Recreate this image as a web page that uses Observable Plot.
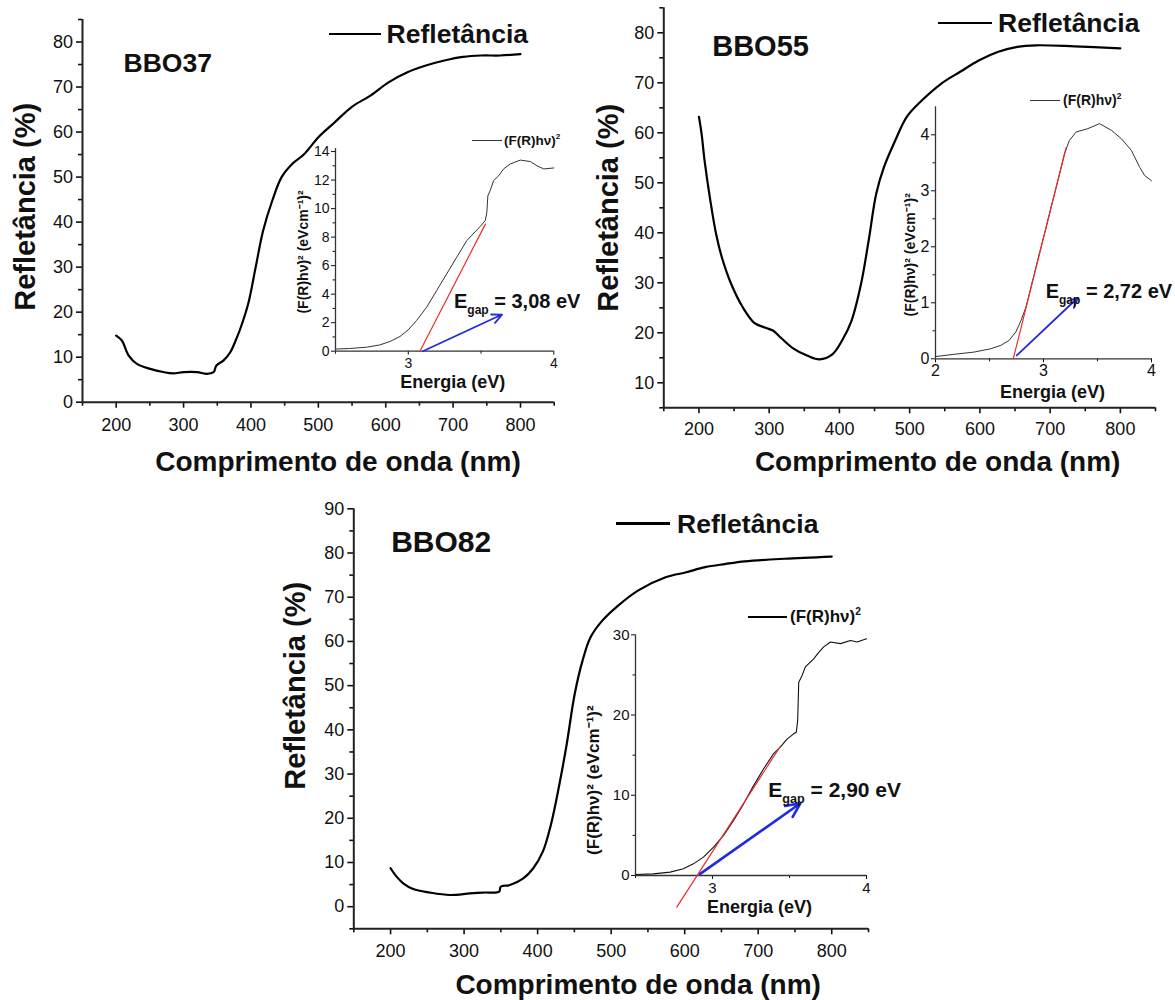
<!DOCTYPE html>
<html>
<head>
<meta charset="utf-8">
<script src="https://cdn.jsdelivr.net/npm/d3@7"></script>
<script src="https://cdn.jsdelivr.net/npm/@observablehq/plot@0.6"></script>
<style>
  body { margin: 0; background: #fff; }
  #fig { position: relative; width: 1175px; height: 1000px; overflow: hidden;
         font-family: "Liberation Sans", Arial, Helvetica, sans-serif; color: #111; }
  #fig > svg, #fig > div { position: absolute; }
  .t { line-height: 1; white-space: nowrap; font-weight: bold; }
</style>
</head>
<body>
<div id="fig"></div>
<script>
// ---------- Reflectance spectra: wavelength (nm) vs reflectance (%) ----------
const bbo37Nm = [200, 208.4, 218.3, 230.7, 250.5, 269.7, 285, 300, 319.8, 334.7, 344.6, 348.5, 359.4, 369.3, 379.2, 385.1, 396, 407, 418, 431.7, 445.5, 461.9, 478.4, 500.4, 522.4, 549.8, 577.3, 604.7, 632.2, 659.6, 687.1, 714.6, 742, 769.5, 800];
const bbo37R  = [14.8, 13.7, 10.4, 8.5, 7.4, 6.7, 6.4, 6.7, 6.7, 6.3, 6.7, 8.1, 9.3, 11.1, 14.4, 16.7, 21.9, 30.0, 38.1, 44.8, 50.0, 53.0, 55.0, 58.9, 61.9, 65.6, 68.1, 71.1, 73.3, 74.8, 75.9, 76.7, 77.0, 77.0, 77.3];

const bbo55Nm = [200, 203.8, 208, 216.3, 224.4, 232.6, 246.1, 262.4, 278.7, 295, 305.9, 316.7, 333, 354.7, 371.7, 390, 403.6, 417.2, 430.7, 441.6, 452.4, 463.3, 479.6, 495.9, 517.6, 544.7, 571.9, 599, 626.2, 653.3, 680.4, 734.7, 800];
const bbo55R  = [63.2, 59.8, 54.5, 46.4, 39.8, 35.1, 29.7, 25.1, 22.0, 21.0, 20.4, 19.0, 17.0, 15.4, 14.7, 15.7, 18.4, 22.4, 29.7, 38.4, 47.8, 53.1, 58.5, 63.2, 66.5, 69.8, 72.2, 74.5, 76.2, 77.2, 77.5, 77.3, 76.9];

const bbo82Nm = [200, 208.2, 217.2, 230.8, 253.5, 280.7, 307.9, 326, 347.8, 349.7, 362.4, 380.5, 394.1, 407.2, 418, 428.7, 439.5, 450.3, 461, 471.8, 488, 509.5, 536.4, 574, 601, 627.9, 654.8, 681.7, 735.5, 800];
const bbo82R  = [8.7, 6.8, 5.3, 4.0, 3.2, 2.65, 3.0, 3.2, 3.4, 4.5, 4.9, 6.4, 8.7, 12.5, 18.5, 26.9, 36.7, 48.0, 55.6, 60.9, 64.7, 68.1, 71.5, 74.5, 75.6, 76.8, 77.5, 78.1, 78.7, 79.2];

// ---------- Kubelka-Munk plots: energy (eV) vs (F(R)hν)² ----------
const km37Ev = [2.5, 2.598, 2.713, 2.805, 2.874, 2.943, 3.0, 3.057, 3.126, 3.195, 3.264, 3.333, 3.402, 3.494, 3.529, 3.54, 3.547, 3.563, 3.586, 3.621, 3.655, 3.701, 3.77, 3.839, 3.885, 3.931, 4.0];
const km37F  = [0.15, 0.19, 0.28, 0.44, 0.68, 1.03, 1.5, 2.15, 3.08, 4.25, 5.42, 6.59, 7.76, 8.74, 9.16, 9.74, 10.9, 11.26, 11.96, 12.3, 12.78, 13.13, 13.4, 13.3, 13.0, 12.78, 12.85];

const km55Ev = [2.0, 2.171, 2.357, 2.512, 2.605, 2.682, 2.744, 2.791, 2.837, 2.884, 2.946, 3.008, 3.07, 3.132, 3.194, 3.24, 3.302, 3.411, 3.519, 3.628, 3.721, 3.814, 3.891, 3.938, 4.0];
const km55F  = [0.04, 0.08, 0.12, 0.18, 0.24, 0.33, 0.48, 0.68, 0.92, 1.28, 1.76, 2.23, 2.71, 3.18, 3.66, 3.9, 4.05, 4.11, 4.2, 4.08, 3.93, 3.72, 3.42, 3.27, 3.18];

const km82Ev = [2.5, 2.616, 2.725, 2.811, 2.876, 2.941, 3.007, 3.072, 3.137, 3.202, 3.267, 3.332, 3.397, 3.44, 3.484, 3.527, 3.544, 3.553, 3.56, 3.581, 3.603, 3.625, 3.657, 3.69, 3.722, 3.766, 3.831, 3.896, 3.939, 4.0];
const km82F  = [0.12, 0.2, 0.42, 0.83, 1.45, 2.29, 3.53, 4.99, 6.86, 8.93, 11.2, 13.3, 15.2, 16.0, 17.0, 17.66, 17.86, 19.3, 24.1, 24.9, 26.0, 26.4, 27.0, 27.8, 28.5, 29.1, 28.9, 29.3, 29.1, 29.5];

// Band gaps (x-intercept of the linear fit), fit slopes and fit extents (eV)
const egap       = [3.08, 2.72, 2.90];
const fitSlope   = [19.8, 7.7, 29.8];
const fitXEnd    = [3.53, 3.21, 3.44];
const fitXStart  = [3.08, 2.72, 2.768];
// Pointer arrows toward the band-gap labels: [x1, y1, x2, y2]
const arrowSeg = [[3.10, 0.0, 3.644, 2.57], [2.753, 0.06, 3.318, 1.09], [2.92, 0.2, 3.571, 9.0]];

// ---------- Axis ticks ----------
const nmTicks  = [200, 300, 400, 500, 600, 700, 800];
const nmMinor  = [150, 250, 350, 450, 550, 650, 750, 850];
const r37Ticks = [0, 10, 20, 30, 40, 50, 60, 70, 80];
const r37Minor = [5, 15, 25, 35, 45, 55, 65, 75, 85];
const r55Ticks = [10, 20, 30, 40, 50, 60, 70, 80];
const r55Minor = [5, 15, 25, 35, 45, 55, 65, 75, 85];
const r82Ticks = [0, 10, 20, 30, 40, 50, 60, 70, 80, 90];
const r82Minor = [-5, 5, 15, 25, 35, 45, 55, 65, 75, 85];
const ev37Ticks = [3, 4],    ev37Minor = [2.5, 3.5];
const ev55Ticks = [2, 3, 4], ev55Minor = [2.5, 3.5];
const ev82Ticks = [3, 4],    ev82Minor = [2.5, 3.5];
const f37Ticks = [0, 2, 4, 6, 8, 10, 12, 14], f37Minor = [1, 3, 5, 7, 9, 11, 13];
const f55Ticks = [0, 1, 2, 3, 4],             f55Minor = [0.5, 1.5, 2.5, 3.5];
const f82Ticks = [0, 10, 20, 30],             f82Minor = [5, 15, 25];

const FONT = '"Liberation Sans", Arial, Helvetica, sans-serif';
const RED = "#ee2b2b", BLUE = "#1f2be0";
const fig = document.getElementById("fig");

function place(svg, box) {
  svg.style.left = box.left + "px";
  svg.style.top = box.top + "px";
  fig.appendChild(svg);
}
function margins(box, fr) {
  return {
    marginLeft: fr.x0 - box.left, marginRight: box.left + box.w - fr.x1,
    marginTop: fr.y0 - box.top, marginBottom: box.top + box.h - fr.y1
  };
}
const baseStyle = (size) => ({fontFamily: FONT, fontSize: size + "px", color: "#111", background: "transparent", overflow: "visible"});

// Reflectance panel
function mainPanel(p) {
  const svg = Plot.plot({
    width: p.box.w, height: p.box.h, ...margins(p.box, p.frame),
    x: {domain: [150, 850]}, y: {domain: p.yDomain},
    style: baseStyle(18),
    marks: [
      Plot.axisX({ticks: nmMinor, tickSize: 4, strokeWidth: 1.6, tickFormat: () => "", label: null}),
      Plot.axisX({ticks: nmTicks, tickSize: 6, tickPadding: p.xPad, strokeWidth: 1.6, fontSize: 18, tickFormat: d => String(d), label: null}),
      Plot.axisY({ticks: p.yMinor, tickSize: 4, strokeWidth: 1.6, tickFormat: () => "", label: null}),
      Plot.axisY({ticks: p.yTicks, tickSize: 6, tickPadding: 3.5, strokeWidth: 1.6, fontSize: 18, tickFormat: d => String(d), label: null}),
      Plot.ruleY([p.yDomain[0]], {stroke: "#222", strokeWidth: 2}),
      Plot.ruleX([150], {stroke: "#222", strokeWidth: 2}),
      Plot.line(p.nm, {x: p.nm, y: p.R, stroke: "#000", strokeWidth: 2.2, curve: "catmull-rom"}),
      Plot.text([p.tag], {frameAnchor: "top-left", dx: p.tagDx, dy: p.tagDy, textAnchor: "start", lineAnchor: "middle", fontSize: p.tagSize, fontWeight: "bold", fill: "#111"}),
      Plot.text(["Refletância (%)"], {frameAnchor: "left", rotate: -90, dx: p.yLabDx, dy: p.yLabDy, textAnchor: "middle", lineAnchor: "middle", fontSize: 29, fontWeight: "bold", fill: "#111"}),
      Plot.text(["Comprimento de onda (nm)"], {frameAnchor: "bottom", dx: p.xLabDx, dy: p.xLabDy, textAnchor: "middle", lineAnchor: "middle", fontSize: 28, fontWeight: "bold", fill: "#111"})
    ]
  });
  place(svg, p.box);
}

// Kubelka-Munk inset with linear fit and pointer arrow
function insetPanel(p) {
  const k = p.k;
  const fit = [fitXStart[k], fitXEnd[k]].map(x => ({x, y: fitSlope[k] * (x - egap[k])}));
  const a = arrowSeg[k];
  const svg = Plot.plot({
    width: p.box.w, height: p.box.h, ...margins(p.box, p.frame),
    x: {domain: p.xDomain}, y: {domain: p.yDomain},
    style: baseStyle(p.fs),
    marks: [
      Plot.axisX({ticks: p.xMinor, tickSize: 3, strokeWidth: 1, tickFormat: () => "", label: null}),
      Plot.axisX({ticks: p.xTicks, tickSize: 4, tickPadding: p.xPad, strokeWidth: 1, fontSize: p.fs, tickFormat: d => String(d), label: null}),
      Plot.axisY({ticks: p.yMinor, tickSize: 2.5, strokeWidth: 1, tickFormat: () => "", label: null}),
      Plot.axisY({ticks: p.yTicks, tickSize: 4, tickPadding: 2, strokeWidth: 1, fontSize: p.fs, tickFormat: d => String(d), label: null}),
      Plot.ruleY([p.yDomain[0]], {stroke: "#333", strokeWidth: 1.3}),
      Plot.ruleX([p.xDomain[0]], {stroke: "#333", strokeWidth: 1.3}),
      Plot.line(p.ev, {x: p.ev, y: p.F, stroke: p.curveColor, strokeWidth: p.curveWidth}),
      Plot.line(fit, {x: "x", y: "y", stroke: RED, strokeWidth: 1.2}),
      Plot.arrow([a], {x1: d => d[0], y1: d => d[1], x2: d => d[2], y2: d => d[3], stroke: BLUE, strokeWidth: p.arrowWidth, headLength: 9, headAngle: 50}),
      Plot.text(["Energia (eV)"], {frameAnchor: "bottom", dx: p.xLabDx, dy: p.xLabDy, textAnchor: "middle", lineAnchor: "middle", fontSize: 18, fontWeight: "bold", fill: "#111"}),
      Plot.text(["(F(R)hν)² (eVcm⁻¹)²"], {frameAnchor: "left", rotate: -90, dx: p.yLabDx, dy: p.yLabDy, textAnchor: "middle", lineAnchor: "middle", fontSize: p.yLabSize, fontWeight: "bold", fill: "#111"})
    ]
  });
  place(svg, p.box);
}

// Legend swatch + text and band-gap annotation as positioned HTML
function legendEntry(x1, x2, y, lineW, color, html, textLeft, size) {
  const line = document.createElement("div");
  line.style.cssText = `left:${x1}px;top:${y - lineW / 2}px;width:${x2 - x1}px;height:${lineW}px;background:${color}`;
  fig.appendChild(line);
  const t = document.createElement("div");
  t.className = "t";
  t.innerHTML = html;
  t.style.cssText += `left:${textLeft}px;top:${y - 0.49 * size}px;font-size:${size}px`;
  fig.appendChild(t);
}
function gapLabel(k, left, baseline, size) {
  const t = document.createElement("div");
  t.className = "t";
  t.innerHTML = `E<span style="font-size:0.6em;position:relative;top:0.5em">gap</span> = ${egap[k].toFixed(2).replace(".", ",")} eV`;
  t.style.cssText += `left:${left}px;top:${baseline - 0.8465 * size}px;font-size:${size}px`;
  fig.appendChild(t);
}
const sq = '<span style="font-size:0.6em;position:relative;top:-0.75em">2</span>';

mainPanel({tag: "BBO37", nm: bbo37Nm, R: bbo37R, yDomain: [0, 85], yTicks: r37Ticks, yMinor: r37Minor,
  box: {left: 0, top: 0, w: 580, h: 480}, frame: {x0: 82, x1: 553.7, y0: 19, y1: 401.7},
  xPad: 10.5, tagDx: 41, tagDy: 44, tagSize: 26.5, xLabDx: 19.6, xLabDy: 60, yLabDx: -57, yLabDy: -4});
mainPanel({tag: "BBO55", nm: bbo55Nm, R: bbo55R, yDomain: [5, 85], yTicks: r55Ticks, yMinor: r55Minor,
  box: {left: 580, top: 0, w: 595, h: 480}, frame: {x0: 663.3, x1: 1155, y0: 7.3, y1: 407.3},
  xPad: 8.6, tagDx: 48.4, tagDy: 38.7, tagSize: 29, xLabDx: 28, xLabDy: 54.4, yLabDx: -55, yLabDy: 0});
mainPanel({tag: "BBO82", nm: bbo82Nm, R: bbo82R, yDomain: [-5, 90], yTicks: r82Ticks, yMinor: r82Minor,
  box: {left: 270, top: 480, w: 620, h: 520}, frame: {x0: 353.3, x1: 868, y0: 508.3, y1: 928.3},
  xPad: 9.3, tagDx: 37.4, tagDy: 33.4, tagSize: 30, xLabDx: 27, xLabDy: 56.7, yLabDx: -58, yLabDy: -33});

insetPanel({k: 0, ev: km37Ev, F: km37F, xDomain: [2.5, 4], yDomain: [0, 14.2], xTicks: ev37Ticks, xMinor: ev37Minor, yTicks: f37Ticks, yMinor: f37Minor,
  box: {left: 260, top: 120, w: 320, h: 280}, frame: {x0: 335, x1: 553.3, y0: 148.2, y1: 350.7},
  fs: 14, xPad: 3.3, xLabDx: 8, xLabDy: 31, yLabDx: -32, yLabDy: 2, yLabSize: 14, curveColor: "#333", curveWidth: 1, arrowWidth: 1.8});
insetPanel({k: 1, ev: km55Ev, F: km55F, xDomain: [2, 4], yDomain: [0, 4.5], xTicks: ev55Ticks, xMinor: ev55Minor, yTicks: f55Ticks, yMinor: f55Minor,
  box: {left: 860, top: 80, w: 315, h: 340}, frame: {x0: 935, x1: 1151, y0: 106.3, y1: 358.3},
  fs: 16, xPad: 2, xLabDx: 9, xLabDy: 33, yLabDx: -25, yLabDy: 22, yLabSize: 14, curveColor: "#333", curveWidth: 1, arrowWidth: 1.8});
insetPanel({k: 2, ev: km82Ev, F: km82F, xDomain: [2.5, 4], yDomain: [0, 30], xTicks: ev82Ticks, xMinor: ev82Minor, yTicks: f82Ticks, yMinor: f82Minor,
  box: {left: 540, top: 600, w: 350, h: 340}, frame: {x0: 635, x1: 866, y0: 634.3, y1: 875},
  fs: 15, xPad: 3, xLabDx: 8.5, xLabDy: 32, yLabDx: -42, yLabDy: 25, yLabSize: 17, curveColor: "#111", curveWidth: 1.1, arrowWidth: 2.6});

legendEntry(329, 381, 34, 2.2, "#000", "Refletância", 386.6, 26.5);
legendEntry(938, 992, 23, 2.2, "#000", "Refletância", 998, 26.5);
legendEntry(616, 669.5, 523.5, 2.2, "#000", "Refletância", 677, 26.5);
legendEntry(471.7, 501.7, 140.5, 1, "#333", "(F(R)hν)" + sq, 504, 13.5);
legendEntry(1030, 1060, 100, 1, "#333", "(F(R)hν)" + sq, 1063, 14);
legendEntry(748, 787, 616.7, 2, "#000", "(F(R)hν)" + sq, 790, 17);

gapLabel(0, 454, 308, 20);
gapLabel(1, 1045.7, 298.3, 20);
gapLabel(2, 768.3, 796.7, 21);
</script>
</body>
</html>
